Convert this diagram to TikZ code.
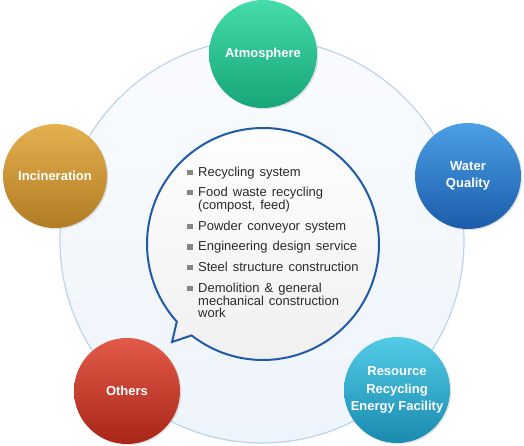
\documentclass[tikz,border=0pt]{standalone}
\usepackage{fontspec}
\setmainfont{Liberation Sans}
\newfontfamily\itemfont[WordSpace=1.4]{Liberation Sans}
\usetikzlibrary{shadows}
\definecolor{ringline}{HTML}{BCD3EE}
\definecolor{ringtop}{HTML}{F9FBFE}
\definecolor{ringbot}{HTML}{EEF4FB}
\definecolor{bubline}{HTML}{1F5BA6}
\definecolor{bubbot}{HTML}{EFEFEF}
\definecolor{txt}{HTML}{2B2B2B}
\definecolor{bulc}{HTML}{858585}
\definecolor{atmT}{HTML}{45DCAA}\definecolor{atmB}{HTML}{16A577}
\definecolor{incT}{HTML}{E5B04F}\definecolor{incB}{HTML}{B07C22}
\definecolor{watT}{HTML}{4B9FE4}\definecolor{watB}{HTML}{1B5CAB}
\definecolor{othT}{HTML}{E35A4A}\definecolor{othB}{HTML}{A82617}
\definecolor{resT}{HTML}{52CBE6}\definecolor{resB}{HTML}{1A8AAF}
\begin{document}
\begin{tikzpicture}[x=1pt,y=1pt,
  topic/.style={circle, minimum size=#1, inner sep=0pt, text=white,
    font=\bfseries\fontsize{13}{16.5}\selectfont, align=center,
    drop shadow={opacity=0.22,shadow xshift=1.3pt,shadow yshift=-1.3pt}},
  bul/.style={rectangle, minimum size=5.5pt, inner sep=0pt, fill=bulc},
  itm/.style={anchor=base west, inner sep=0pt, text=txt,
    font=\itemfont\fontsize{13}{12.4}\selectfont}]
\useasboundingbox (0,0) rectangle (524,-446);
% background ring
\draw[ringline, line width=1.2pt, top color=ringtop, bottom color=ringbot]
  (262,-241) circle[radius=202];
% speech bubble
\coordinate (tip) at (172,-342);
\draw[bubline, line width=2pt, line join=miter, top color=white, bottom color=bubbot]
  (263,-244) ++(232:116) arc[start angle=232, end angle=582, radius=116] -- (tip) -- cycle;
% topic circles
\node[topic=108pt, top color=atmT, bottom color=atmB] (atm) at (263,-54) {Atmosphere};
\node[topic=104pt, top color=incT, bottom color=incB] (inc) at (55,-176) {Incineration};
\node[topic=106pt, top color=watT, bottom color=watB] (wat) at (468,-176) {Water\\Quality};
\node[topic=106pt, top color=othT, bottom color=othB] (oth) at (127,-391) {Others};
\node[topic=106pt, top color=resT, bottom color=resB, font=\bfseries\fontsize{13}{17.5}\selectfont] (res) at (397,-390) {Resource\\Recycling\\Energy Facility};
% bullet list
\node[bul] (b1) at (190,-172.5) {};
\node[itm] (t1) at (198,-176.7) {Recycling system};
\node[bul] (b2) at (190,-192.5) {};
\node[itm] (t2) at (198,-196.7) {\vtop{\hbox{Food waste recycling}\hbox{(compost, feed)}}};
\node[bul] (b3) at (190,-226.5) {};
\node[itm] (t3) at (198,-230.7) {Powder conveyor system};
\node[bul] (b4) at (190,-246.8) {};
\node[itm] (t4) at (198,-251) {Engineering design service};
\node[bul] (b5) at (190,-267.5) {};
\node[itm] (t5) at (198,-271.7) {Steel structure construction};
\node[bul] (b6) at (190,-288.5) {};
\node[itm] (t6) at (198,-292.7) {\vtop{\hbox{Demolition \& general}\hbox{mechanical construction}\hbox{work}}};
\end{tikzpicture}
\end{document}
